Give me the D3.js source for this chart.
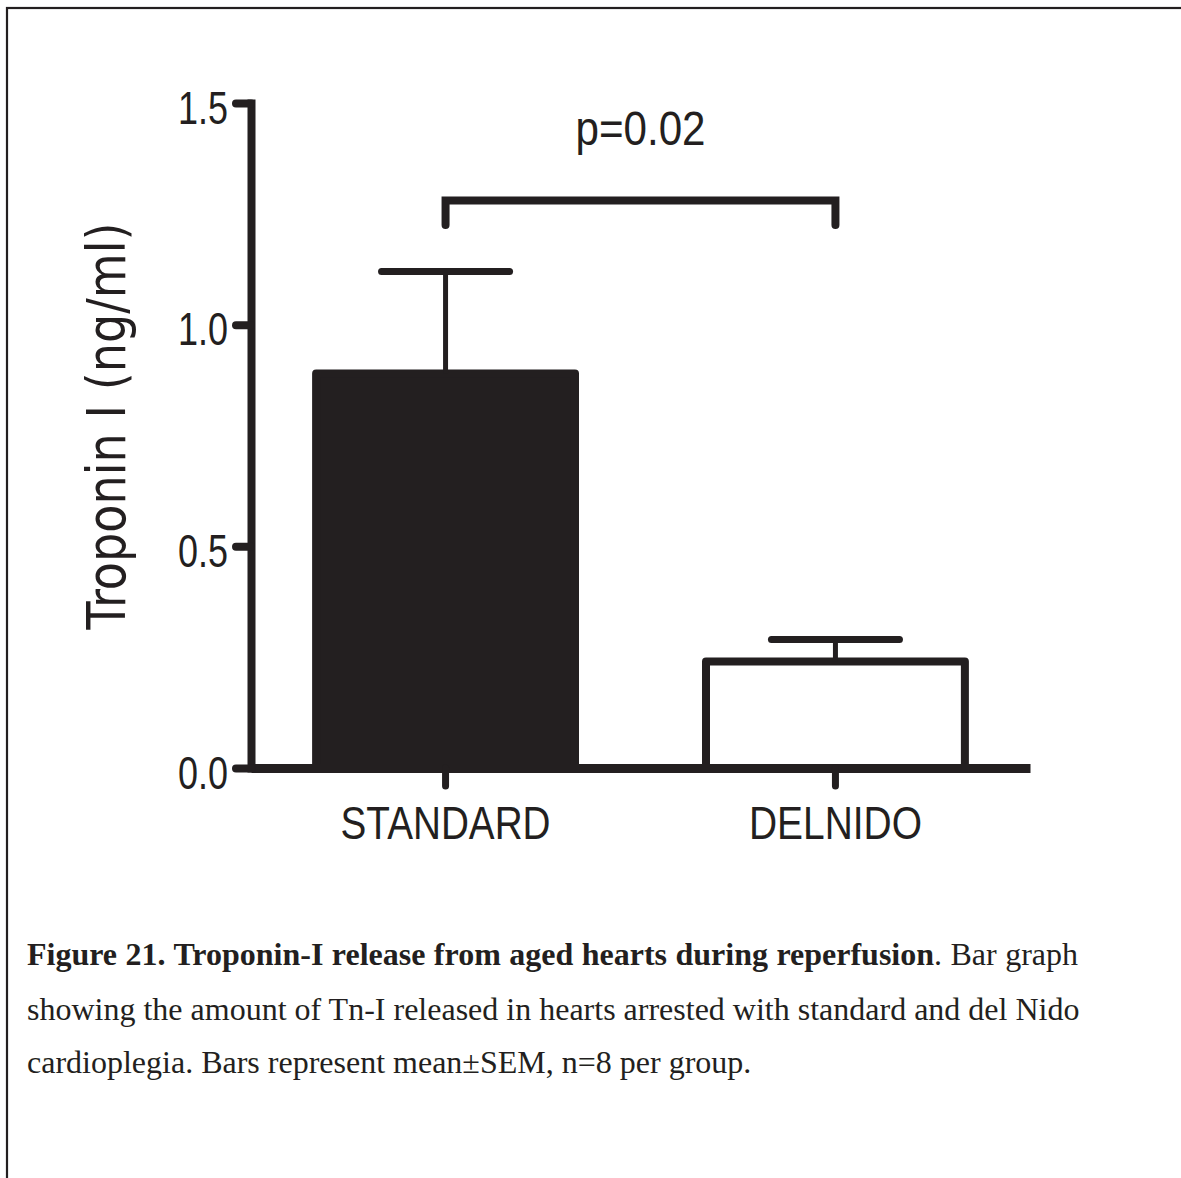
<!DOCTYPE html>
<html>
<head>
<meta charset="utf-8">
<script src="https://cdn.jsdelivr.net/npm/d3@7"></script>
<style>
  body { margin: 0; background: #fff; overflow: hidden; }
  svg { display: block; }
</style>
</head>
<body>
<div class="bar-chart-container"></div>
<script>
(function(){
    // data
    const groups = ['STANDARD', 'DELNIDO'];
    const means = [0.89, 0.24];
    const sems = [0.23, 0.05];
    const yTicks = [0, 0.5, 1.0, 1.5];
    const pLabel = 'p=0.02';
    const bracketLevel = 1.28;
    const captionBold = 'Figure 21. Troponin-I release from aged hearts during reperfusion';
    const captionLines = [
        '. Bar graph',
        'showing the amount of Tn-I released in hearts arrested with standard and del Nido',
        'cardioplegia. Bars represent mean\u00b1SEM, n=8 per group.'
    ];

    const ink = '#231f20';
    const narrow = '"Liberation Sans Narrow", "Arial Narrow", "Liberation Sans", sans-serif';

    const svg = d3.select('.bar-chart-container').append('svg')
        .attr('width', 1181).attr('height', 1178);

    // frame (runs off the right and bottom edge)
    svg.append('rect')
        .attr('x', 7).attr('y', 8)
        .attr('width', 1400).attr('height', 1400)
        .style('fill', 'none').style('stroke', ink).style('stroke-width', 2.2);

    //scales
    const xScale = d3.scaleBand().domain(groups)
        .range([251, 1030]).paddingInner(0.336).paddingOuter(0.167);
    const yScale = d3.scaleLinear().domain([0, 1.5]).range([768, 103]);
    const cx = g => xScale(g) + xScale.bandwidth() / 2;

    const rows = groups.map((g, i) => ({ group: g, mean: means[i], sem: sems[i], filled: i === 0 }));

    // bars
    const chart = svg.append('g').attr('class', 'bars');
    chart.selectAll('.bar').data(rows).enter()
        .append('rect')
        .attr('class', 'bar')
        .attr('x', d => xScale(d.group))
        .attr('width', xScale.bandwidth())
        .attr('y', d => yScale(d.mean))
        .attr('height', d => yScale(0) - yScale(d.mean))
        .style('fill', d => d.filled ? ink : '#fff')
        .style('stroke', ink).style('stroke-width', 8)
        .style('stroke-linejoin', 'round');

    // error bars (upper only)
    chart.selectAll('.err-stem').data(rows).enter()
        .append('line')
        .attr('x1', d => cx(d.group)).attr('x2', d => cx(d.group))
        .attr('y1', d => yScale(d.mean)).attr('y2', d => yScale(d.mean + d.sem))
        .style('stroke', ink).style('stroke-width', 5);
    chart.selectAll('.err-cap').data(rows).enter()
        .append('line')
        .attr('x1', d => cx(d.group) - 64).attr('x2', d => cx(d.group) + 64)
        .attr('y1', d => yScale(d.mean + d.sem)).attr('y2', d => yScale(d.mean + d.sem))
        .style('stroke', ink).style('stroke-width', 7).style('stroke-linecap', 'round');

    //Draw X axis
    const xAxis = d3.axisBottom(xScale).tickSizeInner(18).tickSizeOuter(0);
    const gx = svg.append('g').attr('class', 'x axis')
        .attr('transform', `translate(0,${yScale(0)})`)
        .call(xAxis);
    gx.select('.domain').style('stroke', ink).style('stroke-width', 9);
    gx.selectAll('.tick line').style('stroke', ink).style('stroke-width', 7)
        .style('stroke-linecap', 'round');
    gx.selectAll('.tick text')
        .attr('y', 71).attr('dy', 0)
        .attr('textLength', d => d === 'STANDARD' ? 210 : 173)
        .attr('lengthAdjust', 'spacingAndGlyphs')
        .style('font-family', narrow).style('font-size', '47px').style('fill', ink);

    //Draw Y axis
    const yAxis = d3.axisLeft(yScale).tickValues(yTicks)
        .tickFormat(d3.format('.1f'))
        .tickSizeInner(15).tickSizeOuter(0);
    const gy = svg.append('g').attr('class', 'y axis')
        .attr('transform', 'translate(251,0)')
        .call(yAxis);
    gy.select('.domain').style('stroke', ink).style('stroke-width', 8)
        .style('stroke-linecap', 'square');
    gy.selectAll('.tick line').style('stroke', ink).style('stroke-width', 8)
        .style('stroke-linecap', 'round');
    gy.selectAll('.tick text')
        .attr('x', -23).attr('dy', 0).attr('y', 20)
        .attr('textLength', 50).attr('lengthAdjust', 'spacingAndGlyphs')
        .style('font-family', narrow).style('font-size', '46px').style('fill', ink);

    // y label
    svg.append('text')
        .attr('transform', `translate(125,${426}) rotate(-90)`)
        .attr('text-anchor', 'middle')
        .attr('textLength', 407).attr('lengthAdjust', 'spacingAndGlyphs')
        .style('font-family', '"DejaVu Sans", sans-serif').style('font-size', '53px')
        .style('fill', ink)
        .text('Troponin I (ng/ml)');

    // significance bracket
    const by = yScale(bracketLevel);
    const legY = yScale(bracketLevel - 0.055);
    const bx0 = cx(groups[0]), bx1 = cx(groups[1]);
    svg.append('path')
        .attr('d', `M${bx0},${legY}V${by}H${bx1}V${legY}`)
        .style('fill', 'none').style('stroke', ink).style('stroke-width', 8)
        .style('stroke-linecap', 'round').style('stroke-linejoin', 'miter');
    svg.append('text')
        .attr('x', (bx0 + bx1) / 2).attr('y', 145)
        .attr('text-anchor', 'middle')
        .attr('textLength', 130).attr('lengthAdjust', 'spacingAndGlyphs')
        .style('font-family', narrow).style('font-size', '48px').style('fill', ink)
        .text(pLabel);

    // caption, first two lines justified to the same width
    const capX = 27, capRight = 1078;
    const capY = [965, 1020, 1073];
    const caption = svg.append('g').attr('class', 'caption')
        .style('font-family', '"Liberation Serif", "Times New Roman", serif')
        .style('font-size', '32px').style('fill', ink);

    const l1 = caption.append('text').attr('x', capX).attr('y', capY[0]);
    l1.append('tspan').style('font-weight', 'bold').text(captionBold);
    l1.append('tspan').text(captionLines[0]);
    const l2 = caption.append('text').attr('x', capX).attr('y', capY[1]).text(captionLines[1]);
    caption.append('text').attr('x', capX).attr('y', capY[2]).text(captionLines[2]);

    [[l1, captionBold + captionLines[0]], [l2, captionLines[1]]].forEach(([el, str]) => {
        const w = el.node().getComputedTextLength();
        const gaps = str.split(' ').length - 1;
        el.style('word-spacing', `${Math.max(0, (capRight - capX - w) / gaps)}px`);
    });
})();
</script>
</body>
</html>
